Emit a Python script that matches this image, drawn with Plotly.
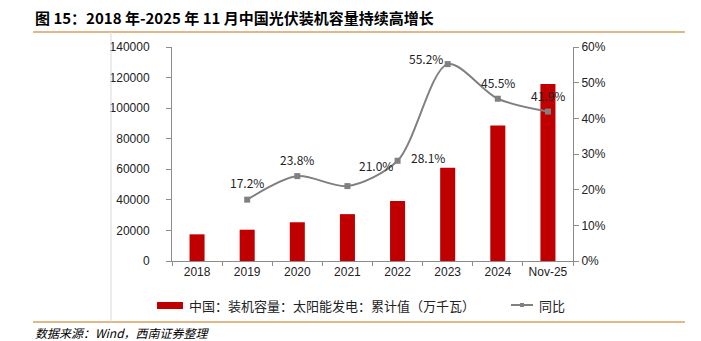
import plotly.graph_objects as go

# Cumulative installed solar capacity in China (10,000 kW) and YoY growth (%)
categories = ["2018", "2019", "2020", "2021", "2022", "2023", "2024", "Nov-25"]
capacity = [17446, 20468, 25343, 30656, 39261, 60949, 88666, 115800]
yoy_cats = ["2019", "2020", "2021", "2022", "2023", "2024", "Nov-25"]
yoy = [17.2, 23.8, 21.0, 28.1, 55.2, 45.5, 41.9]
# pixel offsets for each growth label relative to its point
label_shift = [(0, 17), (0, 17), (29, 21), (30, 3), (-22, 6), (0, 16), (0, 16)]

W, H = 701, 341
L, R, T, B = 172, 573, 47, 261  # plot area in pixels


def px(x):
    return (x - L) / (R - L)


def py(y):
    return (B - y) / (B - T)


BAR = "#C00000"
LINE = "#808080"
AXIS = "#8C8C8C"
ORANGE = "#D9A25E"
CJK = "Noto Sans CJK SC"
LAT = "Liberation Sans"

fig = go.Figure()
fig.add_trace(go.Bar(
    x=categories, y=capacity, marker_color=BAR, marker_line_width=0,
    width=0.3, showlegend=False, yaxis="y",
))
fig.add_trace(go.Scatter(
    x=yoy_cats, y=yoy, mode="lines+markers", yaxis="y2",
    line=dict(color=LINE, width=2, shape="spline", smoothing=0.85),
    marker=dict(symbol="square", size=6, color=LINE),
    showlegend=False,
))

annotations = []
for c, v, (dx, dy) in zip(yoy_cats, yoy, label_shift):
    annotations.append(dict(
        x=categories.index(c), y=v, xref="x", yref="y2", text=f"{v:.1f}%",
        showarrow=False, xshift=dx, yshift=dy,
        font=dict(family=CJK, size=12, color="#222222"),
    ))

# title
annotations.append(dict(
    x=px(33), y=py(17), xref="paper", yref="paper", xanchor="left", yanchor="middle",
    text="<b>图 15：2018 年-2025 年 11 月中国光伏装机容量持续高增长</b>",
    showarrow=False, font=dict(family=CJK, size=15, color="#000000"),
))
# legend labels
annotations.append(dict(
    x=px(187), y=py(305), xref="paper", yref="paper", xanchor="left", yanchor="middle",
    text="中国：装机容量：太阳能发电：累计值（万千瓦）", showarrow=False,
    font=dict(family=CJK, size=13, color="#222222"),
))
annotations.append(dict(
    x=px(537), y=py(305), xref="paper", yref="paper", xanchor="left", yanchor="middle",
    text="同比", showarrow=False, font=dict(family=CJK, size=13, color="#222222"),
))
# source note
annotations.append(dict(
    x=px(33), y=py(332), xref="paper", yref="paper", xanchor="left", yanchor="middle",
    text="<i>数据来源：Wind，西南证券整理</i>", showarrow=False,
    font=dict(family=CJK, size=12, color="#000000"),
))

shapes = [
    dict(type="line", xref="paper", yref="paper", x0=px(33), x1=px(685), y0=py(32), y1=py(32),
         line=dict(color=ORANGE, width=1.5)),
    dict(type="line", xref="paper", yref="paper", x0=px(33), x1=px(685), y0=py(322), y1=py(322),
         line=dict(color=ORANGE, width=1.5)),
    dict(type="line", xref="paper", yref="paper", x0=px(111), x1=px(111), y0=py(32), y1=py(322),
         line=dict(color="#D9D9D9", width=1)),
    # legend swatches
    dict(type="rect", xref="paper", yref="paper", x0=px(157), x1=px(183), y0=py(302), y1=py(309),
         fillcolor=BAR, line_width=0),
    dict(type="line", xref="paper", yref="paper", x0=px(511), x1=px(533), y0=py(305), y1=py(305),
         line=dict(color=LINE, width=2)),
    dict(type="rect", xref="paper", yref="paper", x0=px(520), x1=px(524), y0=py(303), y1=py(307),
         fillcolor=LINE, line_width=0),
]

fig.update_layout(
    width=W, height=H,
    margin=dict(l=L, r=W - R, t=T, b=H - B, pad=0),
    paper_bgcolor="white", plot_bgcolor="white",
    bargap=0.7,
    xaxis=dict(
        type="category", tickson="boundaries", ticks="outside", ticklen=4,
        tickcolor=AXIS, showline=True, linecolor=AXIS, linewidth=1,
        showgrid=False, tickfont=dict(family=LAT, size=12, color="#222222"),
        range=[-0.5, 7.5],
    ),
    yaxis=dict(
        range=[0, 140000], dtick=20000, ticks="outside", ticklen=5, tickcolor=AXIS,
        showline=True, linecolor=AXIS, linewidth=1, showgrid=False, zeroline=False,
        tickfont=dict(family=LAT, size=12, color="#222222"), tickformat="d",
        ticklabelstandoff=14,
    ),
    yaxis2=dict(
        overlaying="y", side="right", range=[0, 60], dtick=10, ticksuffix="%",
        ticks="outside", ticklen=5, tickcolor=AXIS, showline=True, linecolor=AXIS,
        linewidth=1, showgrid=False, zeroline=False,
        tickfont=dict(family=LAT, size=12, color="#222222"),
    ),
    annotations=annotations,
    shapes=shapes,
)

fig.write_html("out.html")
